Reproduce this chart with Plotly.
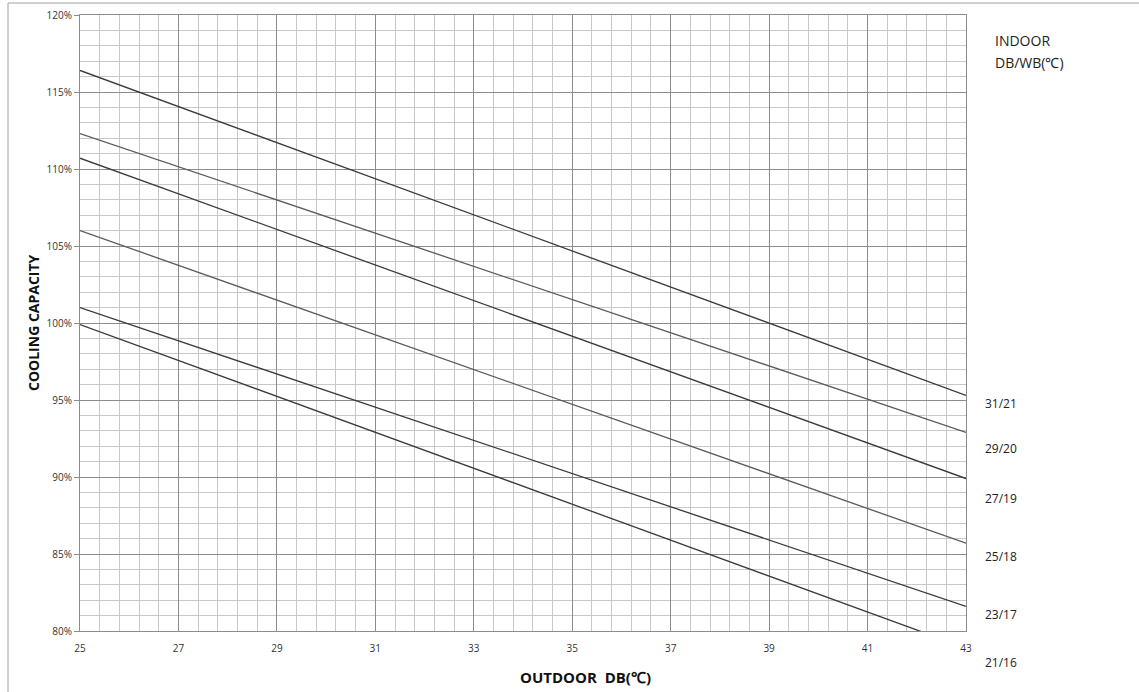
import plotly.graph_objects as go

# Data (capacity % at outdoor DB 25 and 43 °C)
outdoor_db = [25, 43]
series_names = ["31/21", "29/20", "27/19", "25/18", "23/17", "21/16"]
cap_31_21 = [116.4, 95.3]
cap_29_20 = [112.3, 92.9]
cap_27_19 = [110.7, 89.9]
cap_25_18 = [106.0, 85.7]
cap_23_17 = [101.0, 81.6]
cap_21_16 = [99.9, 78.9]
series_values = [cap_31_21, cap_29_20, cap_27_19, cap_25_18, cap_23_17, cap_21_16]
label_y = [403, 448, 498, 556, 614, 662]  # pixel rows of right-hand labels

W, H = 1139, 692
ml, mr, mt, mb = 80, 173, 15, 61
PW, PH = W - ml - mr, H - mt - mb


def px(x):
    return (x - ml) / PW


def py(y):
    return (H - mb - y) / PH


fig = go.Figure()
colors = ["#3a3a3a", "#5a5a5a", "#3a3a3a", "#5a5a5a", "#3a3a3a", "#3a3a3a"]
for name, vals, c in zip(series_names, series_values, colors):
    fig.add_trace(go.Scatter(x=outdoor_db, y=vals, mode="lines", name=name,
                             line=dict(color=c, width=1.3), showlegend=False))

font_main = "Open Sans, Liberation Sans, sans-serif"

fig.update_layout(
    width=W, height=H,
    margin=dict(l=ml, r=mr, t=mt, b=mb, autoexpand=False),
    paper_bgcolor="white", plot_bgcolor="white",
    font=dict(family=font_main, size=10, color="#222"),
    xaxis=dict(range=[25, 43], dtick=2, tick0=25, showgrid=True, automargin=False,
               gridcolor="#8c8c8c", gridwidth=1,
               minor=dict(dtick=0.4, tick0=25, showgrid=True, gridcolor="#c8c8c8", gridwidth=1),
               showline=True, linecolor="#8c8c8c", mirror=True, zeroline=False,
               ticks="", ticklabelstandoff=8, tickfont=dict(size=10, color="#333")),
    yaxis=dict(range=[80, 120], dtick=5, tick0=80, ticksuffix="%", showgrid=True, automargin=False,
               gridcolor="#8c8c8c", gridwidth=1,
               minor=dict(dtick=1, tick0=80, showgrid=True, gridcolor="#c8c8c8", gridwidth=1),
               showline=True, linecolor="#8c8c8c", mirror=True, zeroline=False,
               ticks="outside", ticklen=5, tickcolor="#8c8c8c",
               tickfont=dict(size=10, color="#333")),
)

annotations = [
    dict(x=px(993), y=py(40), xref="paper", yref="paper", xanchor="left", yanchor="middle",
         text="INDOOR", showarrow=False, font=dict(size=14, color="#222", family=font_main)),
    dict(x=px(993), y=py(62), xref="paper", yref="paper", xanchor="left", yanchor="middle",
         text="DB/WB(℃)", showarrow=False, font=dict(size=14, color="#222", family=font_main)),
    dict(x=px(585), y=py(677), xref="paper", yref="paper", xanchor="center", yanchor="middle",
         text="<b>OUTDOOR  DB(℃)</b>", showarrow=False, font=dict(size=15, color="#111", family=font_main)),
    dict(x=px(33), y=py(323), xref="paper", yref="paper", xanchor="center", yanchor="middle",
         text="<b>COOLING CAPACITY</b>", textangle=-90, showarrow=False,
         font=dict(size=14, color="#111", family=font_main)),
]
for name, ly in zip(series_names, label_y):
    annotations.append(dict(x=px(983), y=py(ly), xref="paper", yref="paper",
                            xanchor="left", yanchor="middle", text=name, showarrow=False,
                            font=dict(size=12, color="#222", family=font_main)))
fig.update_layout(annotations=annotations)

# chart frame (outer border)
fig.add_shape(type="line", xref="paper", yref="paper", x0=px(8), x1=px(8), y0=py(H + 5), y1=py(3),
              line=dict(color="#a0a0a0", width=1), layer="below")
fig.add_shape(type="line", xref="paper", yref="paper", x0=px(8), x1=px(W + 5), y0=py(3), y1=py(3),
              line=dict(color="#a0a0a0", width=1), layer="below")

fig.write_html("out.html", config={"displayModeBar": False},
               post_script="document.body.style.margin='0';document.body.style.overflow='hidden';")
